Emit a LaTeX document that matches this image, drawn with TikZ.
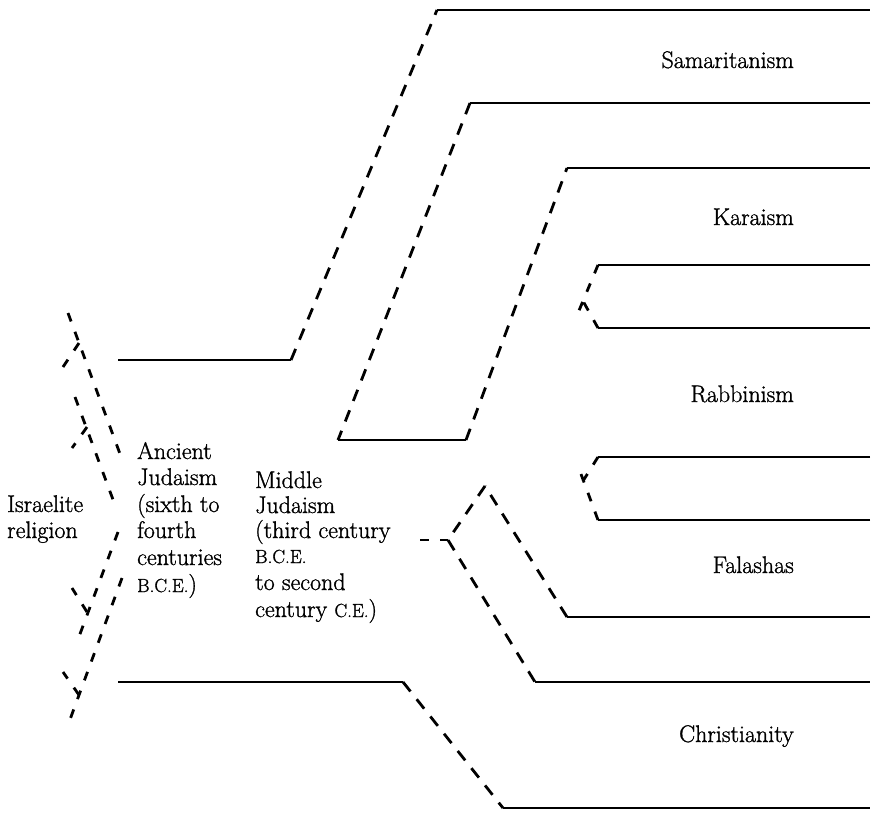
\documentclass[tikz,border=0pt]{standalone}
\usepackage{fontspec}
\setmainfont{Latin Modern Roman}[UprightFeatures={FakeBold=1.2}]
\newcommand\smcaps[1]{{\fontsize{19}{20}\selectfont #1}}
\begin{document}
\begin{tikzpicture}[x=1pt,y=-1pt,
  sline/.style={line width=2.6pt},
  dline/.style={line width=2.8pt, dash pattern=on 12pt off 10pt},
  sdline/.style={line width=2.8pt, dash pattern=on 9pt off 11pt},
  lbl/.style={inner sep=0pt, font=\fontsize{24}{28}\selectfont, anchor=base west},
  rlbl/.style={inner sep=0pt, font=\fontsize{24}{28}\selectfont, anchor=base east}]
\useasboundingbox (0,0) rectangle (874,814);

% corner points
\coordinate (a1) at (118,360); \coordinate (a2) at (291,360);
\coordinate (a3) at (437,10);  \coordinate (a4) at (870,10);
\coordinate (b1) at (870,103); \coordinate (b2) at (470,103);
\coordinate (b3) at (338,440); \coordinate (b4) at (466,440);
\coordinate (b5) at (567,168); \coordinate (b6) at (870,168);
\coordinate (k1) at (870,265); \coordinate (k2) at (598,265);
\coordinate (k3) at (578,313);
\coordinate (r1) at (870,328); \coordinate (r2) at (598,328);
\coordinate (r3) at (583,301);
\coordinate (r4) at (870,457); \coordinate (r5) at (598,457);
\coordinate (r6) at (583,481);
\coordinate (f1) at (870,520); \coordinate (f2) at (598,520);
\coordinate (f3) at (578,466);
\coordinate (f4) at (870,617); \coordinate (f5) at (567,617);
\coordinate (f6) at (485,486);
\coordinate (m1) at (448,540); \coordinate (m0) at (420,540);
\coordinate (c1) at (870,682); \coordinate (c2) at (535,682);
\coordinate (c3) at (118,682); \coordinate (c4) at (403,682);
\coordinate (c5) at (503,808); \coordinate (c6) at (870,808);

% left converging lines
\coordinate (la1) at (68,313);  \coordinate (la2) at (123,462);
\coordinate (lav) at (79,343);  \coordinate (lab) at (63,367);
\coordinate (lb1) at (75,397);  \coordinate (lb2) at (115,505);
\coordinate (lbv) at (87,427);  \coordinate (lbb) at (72,448);
\coordinate (lc1) at (118,532); \coordinate (lc2) at (77,642);
\coordinate (lcv) at (87,612);  \coordinate (lcb) at (72,588);
\coordinate (ld1) at (122,578); \coordinate (ld2) at (68,725);
\coordinate (ldv) at (79,695);  \coordinate (ldb) at (63,672);

% Samaritanism / Ancient Judaism upper boundary
\draw[sline] (a1) -- (a2);
\draw[dline] (a2) -- (a3);
\draw[sline] (a3) -- (a4);
% Samaritanism lower / Karaism upper
\draw[sline] (b1) -- (b2);
\draw[dline] (b2) -- (b3);
\draw[sline] (b3) -- (b4);
\draw[dline] (b4) -- (b5);
\draw[sline] (b5) -- (b6);
% Karaism lower / Rabbinism upper
\draw[sline] (k1) -- (k2);
\draw[sdline] (k2) -- (k3);
\draw[sline] (r1) -- (r2);
\draw[sdline] (r2) -- (r3);
% Rabbinism lower / Falashas upper
\draw[sline] (r4) -- (r5);
\draw[sdline] (r5) -- (r6);
\draw[sline] (f1) -- (f2);
\draw[sdline] (f2) -- (f3);
% Falashas lower and Christianity upper
\draw[sline] (f4) -- (f5);
\draw[dline] (f5) -- (f6);
\draw[dline] (f6) -- (m1);
\draw[sdline] (m0) -- (m1);
\draw[dline] (m1) -- (c2);
\draw[sline] (c2) -- (c1);
% Christianity lower
\draw[sline] (c3) -- (c4);
\draw[dline] (c4) -- (c5);
\draw[sline] (c5) -- (c6);

% Israelite religion into Ancient Judaism
\draw[sdline] (la1) -- (la2);
\draw[sdline] (lav) -- (lab);
\draw[sdline] (lb1) -- (lb2);
\draw[sdline] (lbv) -- (lbb);
\draw[sdline] (lc1) -- (lc2);
\draw[sdline] (lcv) -- (lcb);
\draw[sdline] (ld1) -- (ld2);
\draw[sdline] (ldv) -- (ldb);

% right labels
\node[rlbl] (sam) at (794,68)  {Samaritanism};
\node[rlbl] (kar) at (794,225) {Karaism};
\node[rlbl] (rab) at (794,402) {Rabbinism};
\node[rlbl] (fal) at (794,573) {Falashas};
\node[rlbl] (chr) at (794,742) {Christianity};

% Israelite religion
\node[lbl] (ir1) at (7,512) {Israelite};
\node[lbl] (ir2) at (7,538) {religion};

% Ancient Judaism
\node[lbl] (aj1) at (137,459) {Ancient};
\node[lbl] (aj2) at (137,485) {Judaism};
\node[lbl] (aj3) at (137,512) {(sixth to};
\node[lbl] (aj4) at (137,538) {fourth};
\node[lbl] (aj5) at (137,565) {centuries};
\node[lbl] (aj6) at (137,592) {\smcaps{B.C.E.})};

% Middle Judaism
\node[lbl] (mj1) at (255,488) {Middle};
\node[lbl] (mj2) at (255,513) {Judaism};
\node[lbl] (mj3) at (255,538) {(third century};
\node[lbl] (mj4) at (255,563) {\smcaps{B.C.E.}};
\node[lbl] (mj5) at (255,590) {to second};
\node[lbl] (mj6) at (255,617) {century \smcaps{C.E.})};
\end{tikzpicture}
\end{document}
